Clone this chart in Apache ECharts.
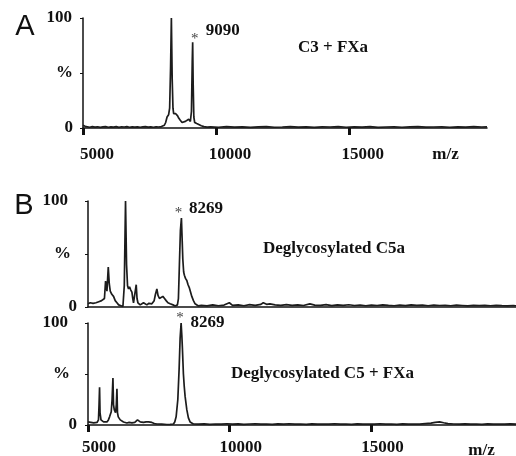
<!DOCTYPE html>
<html>
<head>
<meta charset="utf-8">
<script src="https://cdn.jsdelivr.net/npm/echarts@6/dist/echarts.min.js"></script>
<style>html,body{margin:0;padding:0;background:#fff}#c{width:516px;height:456px}</style>
</head>
<body>
<div id="c"></div>
<script>
// ---- Data (m/z, relative intensity %) ----
const xTicks = [5000, 10000, 15000];
const yTickText = {0: '0', 50: '%', 100: '100'};

// Panel A: C3 + FXa
const mzA = [5000,5040,5080,5150,5250,5350,5450,5550,5650,5750,5850,5950,6050,6150,6250,6350,6450,6550,6650,6750,6850,6950,7050,7150,7250,7350,7450,7550,7650,7750,7850,7950,8020,
  8061,8110,8163,8220,8260,8295,8325,8355,8385,8411,8450,8490,8513,8560,8600,8660,8727,8790,8852,8920,8976,9040,9080,9110,9126,9145,9170,9202,9280,9352,9450,9550,9669,
  9800,10100,10400,10700,11000,11300,11600,11900,12200,12500,12800,13100,13400,13700,14000,14300,14600,14900,15200,15500,15800,16100,16400,16700,17000,17300,17600,17900,18200,18500,18800,19100,19400,19700,20000,20200];
const intA = [2.5,4,1.5,1.0,0.7,1.2,0.8,1.1,0.6,1.0,1.3,0.7,1.0,0.8,1.2,0.6,1.1,0.9,1.2,0.7,1.0,0.8,1.1,0.7,1.0,1.2,0.8,1.0,0.7,1.1,0.9,1.3,1.8,
  2.5,5,10,12,18,55,100,45,18,13,14,13,12,11,9,7,5,5.5,6,7,8,6,15,60,78,40,10,5,4,3,2,1.2,0.8,
  1.0,0.7,1.2,0.8,1.1,0.6,1.0,1.3,0.7,0.9,1.2,0.8,1.0,0.6,1.1,0.9,1.3,0.7,1.0,0.8,1.2,0.6,0.9,1.1,0.7,1.0,1.2,0.8,0.9,1.1,0.7,1.0,0.8,1.2,0.9,1.0];

// Panel B top: Deglycosylated C5a
const mzB1 = [5000,5040,5080,5130,5180,5230,5280,5330,5380,5430,5480,5530,5580,5620,5669,5715,5750,5785,5840,5901,5960,6021,6080,6137,6232,6280,6324,6360,6395,6430,6465,6510,6549,6580,6606,6650,6701,6730,6761,6800,6842,6900,6958,7010,7077,7150,7200,7253,7300,7334,7380,7430,7470,7521,7580,7641,7700,7757,7820,7898,8000,8074,8130,8155,8190,8225,8260,8296,8320,8345,8375,8401,8440,8486,8530,8577,8620,8662,8720,8778,8840,8895,
  9000,9200,9400,9600,9800,9986,10100,10300,10500,10700,10900,11100,11183,11300,11418,11600,11800,12000,12200,12400,12600,12827,13000,13200,13400,13600,13800,14000,14200,14400,14600,14800,15000,15200,15400,15600,15800,16000,16200,16400,16600,16800,17000,17200,17400,17600,17800,18000,18200,18400,18600,18800,19000,19200,19400,19600,19800,20000,20100];
const intB1 = [3,2,4,2.5,3.5,2,4,3,5,4,6,5,8,24.5,15,37.7,22,15,12,10,6,4,2,1,0.5,20,100,40,20,17,19,16,14,8,4,5,21,8,4,2.5,2,3,4,2.5,2,3.5,2,3,4,6,12,17,11,8,9,10,8,6,4,3,2,1,1.5,2,8,40,72,84,65,45,33,30,27,25,21,18,14,10,6,3,1.5,1,
  1.5,1,2,1.2,1.8,4,1.5,2,1.2,2.2,1.5,2.5,4,2.5,3,2,1.5,2.2,1.6,2,1.4,3,1.8,1.5,2.2,1.3,2,1.6,2.1,1.4,1.9,1.2,1.8,1.4,2,1.5,1.2,1.8,1.3,2,1.5,1.7,1.2,1.8,1.4,1.6,1.2,1.7,1.4,1.1,1.6,1.3,1.5,1.2,1.6,1.3,1.1,1.4,1.2];

// Panel B bottom: Deglycosylated C5 + FXa
const mzB2 = [5000,5050,5100,5150,5200,5250,5317,5370,5390,5408,5425,5458,5500,5549,5610,5669,5720,5761,5820,5850,5880,5900,5926,5972,6000,6021,6040,6067,6137,6200,6253,6310,6373,6450,6549,6650,6710,6747,6790,6842,6900,6958,7050,7135,7200,7253,7340,7430,7600,7782,7900,8014,8060,8109,8169,8215,8250,8285,8310,8331,8366,8395,8426,8486,8542,8602,8660,8718,
  8900,9100,9300,9500,9700,9900,10100,10300,10500,10700,10900,11100,11300,11500,11700,11900,12100,12300,12500,12700,12900,13100,13300,13500,13700,13900,14100,14300,14500,14700,14900,15100,15300,15500,15700,15900,16100,16300,16500,16700,16900,17100,17250,17404,17550,17700,17900,18100,18300,18500,18700,18900,19100,19300,19500,19700,19900,20100];
const intB2 = [3,1.5,2.5,1.2,2,1.5,2.5,5,20,37,12,5,4,3,2.5,3,5,8,13,25,46,20,15,12,20,35.5,12,8,5,3.5,3,2,2,2.5,2,2.5,4,5,4,3,2,2.5,3,3,2,2.5,1.5,1,0.8,0.5,0.6,1,3,8,25,55,85,100,88,75,50,38,28,15,7,3,1.5,1,
  0.8,1.1,0.7,1.0,0.8,1.2,0.9,1.1,0.7,1.0,1.2,0.8,1.0,0.7,1.1,0.9,1.2,0.8,1.0,0.7,1.1,0.9,1.0,0.8,1.2,0.9,1.0,0.7,1.1,0.8,1.0,0.9,1.2,0.8,1.0,0.7,1.1,0.9,1.0,0.8,1.3,1.8,2.5,3,2.2,1.4,1.0,0.8,1.1,0.9,1.0,0.7,1.1,0.9,1.0,0.8,1.1,0.9];

// Peak annotations
const starA = [9126, 78];   const labelA = '9090';
const starB1 = [8296, 84];  const labelB1 = '8269';
const starB2 = [8285, 100]; const labelB2 = '8269';
const titles = ['C3 + FXa', 'Deglycosylated C5a', 'Deglycosylated C5 + FXa'];

const zip = (a, b) => a.map((v, i) => [v, b[i]]);

const serif = '"Liberation Serif","Times New Roman",serif';
const ink = '#111';
const lblBase = {fontFamily: serif, fontWeight: 'bold', fontSize: 17, color: ink};

function yAxisCfg(gi, pad100, padPct) {
  return {
    gridIndex: gi, type: 'value', min: 0, max: 100, interval: 50,
    splitLine: {show: false},
    axisLine: {show: true, lineStyle: {color: ink, width: 1.5}},
    axisTick: {show: true, length: 3, lineStyle: {color: ink}},
    axisLabel: {
      margin: gi === 0 ? 10 : 11,
      formatter: v => v === 100 ? '{h|' + yTickText[v] + '}' : (v === 50 ? '{p|' + yTickText[v] + '}' : '{z|' + yTickText[v] + '}'),
      rich: {
        h: Object.assign({}, lblBase, {padding: [0, pad100, 0, 0]}),
        p: Object.assign({}, lblBase, {padding: [0, padPct, 0, 0]}),
        z: Object.assign({}, lblBase)
      }
    }
  };
}
function xAxisCfg(gi, max, showLabels, margin, shift) {
  return {
    gridIndex: gi, type: 'value', min: 5000, max: max, interval: 5000,
    splitLine: {show: false},
    axisLine: {show: true, onZero: false, lineStyle: {color: ink, width: 1.5}},
    axisTick: {show: showLabels, customValues: xTicks, length: 7, inside: false, lineStyle: {color: ink, width: 3}},
    axisLabel: Object.assign({show: showLabels, customValues: xTicks, margin: margin, align: 'center',
      padding: [0, 0, 0, shift], formatter: v => String(v)}, lblBase)
  };
}
function annot(star, label, starOff, labOff) {
  return {
    symbol: 'circle', symbolSize: 1, itemStyle: {color: 'rgba(0,0,0,0)'},
    silent: true,
    data: [
      {coord: star, label: {show: true, position: 'inside', formatter: '*', offset: starOff, fontFamily: serif, fontSize: 15, color: '#444'}},
      {coord: star, label: Object.assign({show: true, position: 'inside', formatter: label, offset: labOff}, lblBase)}
    ]
  };
}
function lineSeries(gi, data, mp) {
  return {
    type: 'line', xAxisIndex: gi, yAxisIndex: gi, data: data,
    showSymbol: false, symbol: 'none', smooth: false, animation: false,
    lineStyle: {color: '#1c1c1c', width: 1.7},
    markPoint: mp
  };
}

const chart = echarts.init(document.getElementById('c'), null, {renderer: 'canvas'});
chart.setOption({
  animation: false,
  backgroundColor: '#fff',
  grid: [
    {left: 83, top: 18, width: 404, height: 110},
    {left: 88, top: 201, width: 429, height: 106},
    {left: 88, top: 323, width: 429, height: 105}
  ],
  xAxis: [xAxisCfg(0, 20200, true, 18, 28), xAxisCfg(1, 20100, false, 14, 22), xAxisCfg(2, 20100, true, 14, 22)],
  yAxis: [yAxisCfg(0, 1, 0), yAxisCfg(1, 9, 6), yAxisCfg(2, 9, 7)],
  series: [
    lineSeries(0, zip(mzA, intA), annot(starA, labelA, [2, -3], [30, -11.5])),
    lineSeries(1, zip(mzB1, intB1), annot(starB1, labelB1, [-3, -5], [24.5, -9])),
    lineSeries(2, zip(mzB2, intB2), annot(starB2, labelB2, [-1, -5], [26.5, 0]))
  ],
  graphic: [
    {type: 'text', x: 25, y: 27, style: {text: 'A', font: '29px "Liberation Sans", Arial, sans-serif', fill: ink, align: 'center', verticalAlign: 'middle'}},
    {type: 'text', x: 24, y: 205.5, style: {text: 'B', font: '29px "Liberation Sans", Arial, sans-serif', fill: ink, align: 'center', verticalAlign: 'middle'}},
    {type: 'text', x: 333, y: 48, style: {text: titles[0], font: 'bold 17px ' + serif, fill: ink, align: 'center', verticalAlign: 'middle'}},
    {type: 'text', x: 334, y: 249, style: {text: titles[1], font: 'bold 17px ' + serif, fill: ink, align: 'center', verticalAlign: 'middle'}},
    {type: 'text', x: 322.5, y: 373.3, style: {text: titles[2], font: 'bold 17px ' + serif, fill: ink, align: 'center', verticalAlign: 'middle'}},
    {type: 'text', x: 445.5, y: 155, style: {text: 'm/z', font: 'bold 17px ' + serif, fill: ink, align: 'center', verticalAlign: 'middle'}},
    {type: 'text', x: 481.5, y: 451, style: {text: 'm/z', font: 'bold 17px ' + serif, fill: ink, align: 'center', verticalAlign: 'middle'}}
  ]
});
</script>
</body>
</html>
